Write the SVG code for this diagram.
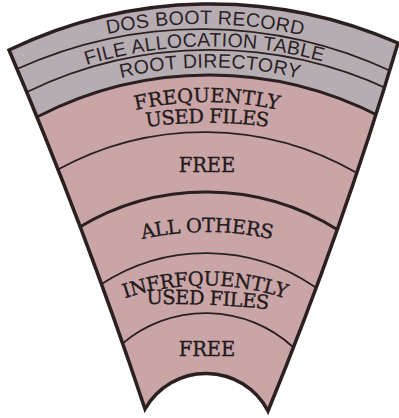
<svg xmlns="http://www.w3.org/2000/svg" width="399" height="418" viewBox="0 0 399 418">
  <style>
    .ink { fill: none; stroke: #2b1f1f; stroke-linecap: round; }
    .thin { stroke-width: 1.8; }
    .thick { stroke-width: 3; }
    .sans { font-family: "Liberation Sans", Arial, sans-serif; font-size: 19.5px; fill: #2b2224; letter-spacing: 0.3px; }
    .serif { font-family: "DejaVu Serif", "Liberation Serif", serif; font-size: 19.5px; fill: #241a1a; stroke: #241a1a; stroke-width: 0.35px; }
  </style>
  <defs>
    <path id="outline" d="M 9,50 A 466 466 0 0 1 398,43 Q 342.4,229.9 268,411 A 70 70 0 0 0 145,409 Q 84.4,226.7 9,50 Z"/>
    <clipPath id="clip"><use href="#outline"/></clipPath>
    <path id="p-dos" d="M 17,64 A 447 447 0 0 1 393,67"/>
    <path id="p-fat" d="M 27,88.5 A 422 422 0 0 1 390,86.5"/>
    <path id="p-root" d="M 39,108.5 A 373 373 0 0 1 381,109.5"/>
    <path id="p-freq" d="M 97,121.5 A 320 320 0 0 1 317,121.5"/>
    <path id="p-used1" d="M 97,136.5 A 450 450 0 0 1 317,136.5"/>
    <path id="p-all" d="M 97,253 A 300 300 0 0 1 317,253"/>
    <path id="p-infreq" d="M 95,310.3 A 256 256 0 0 1 315,310.3"/>
    <path id="p-used2" d="M 97,306.5 Q 207,298.5 317,315.5"/>
  </defs>

  <rect width="399" height="418" fill="#ffffff"/>

  <g id="shape">
    <use href="#outline" fill="#c9a5a8"/>
    <path clip-path="url(#clip)" fill="#b6adb3" d="M 0,0 L 399,0 L 399,117 L 381,117 A 373 373 0 0 0 39,116 L 0,116 Z"/>
  </g>

  <g id="connectors" clip-path="url(#clip)">
    <path class="ink thin" d="M 17,69 A 447 447 0 0 1 393,72"/>
    <path class="ink thin" d="M 27,92 A 422 422 0 0 1 390,90"/>
    <path class="ink thick" d="M 39,116 A 373 373 0 0 1 381,117"/>
    <path class="ink thin" d="M 57,170 A 305 305 0 0 1 357,173"/>
    <path class="ink thick" d="M 78,228 A 247 247 0 0 1 338,230"/>
    <path class="ink thin" d="M 100,285 A 192 192 0 0 1 315,287"/>
    <path class="ink thin" d="M 122,344 A 129 129 0 0 1 293,347"/>
  </g>
  <use href="#outline" class="ink" stroke-width="3.5" stroke-linejoin="miter"/>

  <g id="dos-boot-record">
    <text class="sans" text-anchor="middle"><textPath href="#p-dos" startOffset="50%">DOS BOOT RECORD</textPath></text>
  </g>
  <g id="file-allocation-table">
    <text class="sans" text-anchor="middle"><textPath href="#p-fat" startOffset="49%">FILE ALLOCATION TABLE</textPath></text>
  </g>
  <g id="root-directory">
    <text class="sans" text-anchor="middle"><textPath href="#p-root" startOffset="50%">ROOT DIRECTORY</textPath></text>
  </g>
  <g id="frequently-used-files">
    <text class="serif" text-anchor="middle"><textPath href="#p-freq" startOffset="50%">FREQUENTLY</textPath></text>
    <text class="serif" text-anchor="middle" letter-spacing="-0.6"><textPath href="#p-used1" startOffset="50%">USED FILES</textPath></text>
  </g>
  <g id="free-1">
    <text class="serif" text-anchor="middle" x="207" y="172">FREE</text>
  </g>
  <g id="all-others">
    <text class="serif" text-anchor="middle" letter-spacing="-0.4"><textPath href="#p-all" startOffset="50%">ALL OTHERS</textPath></text>
  </g>
  <g id="infrequently-used-files">
    <text class="serif" text-anchor="middle" letter-spacing="-0.4"><textPath href="#p-infreq" startOffset="50%">INFRFQUENTLY</textPath></text>
    <text class="serif" text-anchor="middle" letter-spacing="-0.6"><textPath href="#p-used2" startOffset="50%">USED FILES</textPath></text>
  </g>
  <g id="free-2">
    <text class="serif" text-anchor="middle" x="207" y="356">FREE</text>
  </g>
</svg>
